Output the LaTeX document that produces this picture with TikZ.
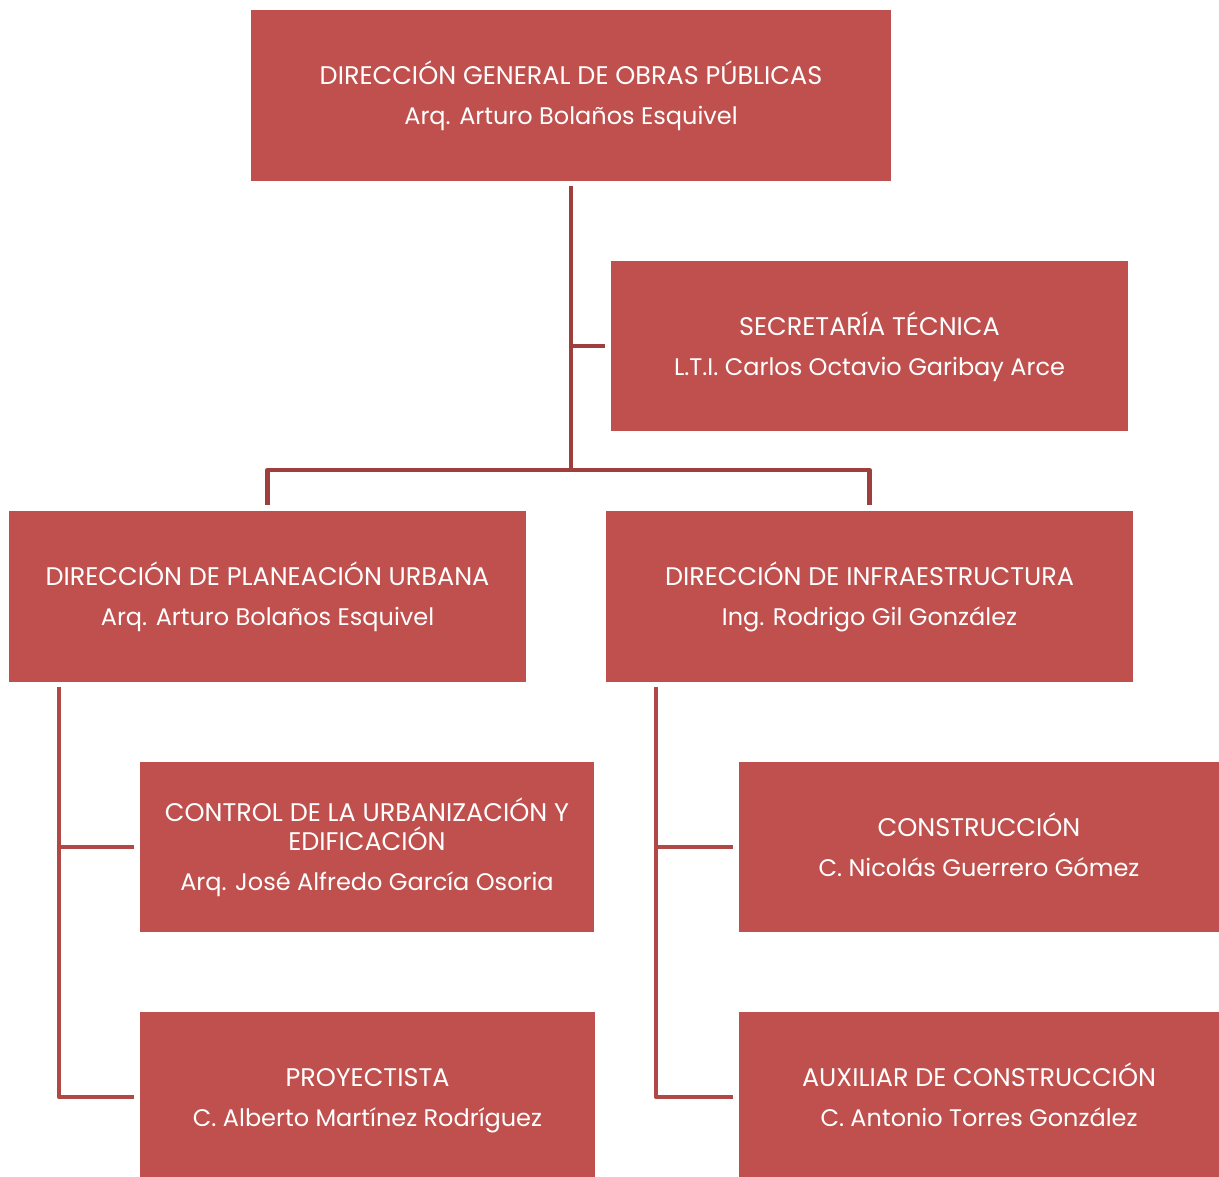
\documentclass[tikz,border=0pt]{standalone}
\usepackage{fontspec}
\setmainfont{Poppins}
\definecolor{boxred}{HTML}{C0504D}
\definecolor{lineA}{HTML}{9E3F3D}
\definecolor{lineB}{HTML}{B04846}
\newcommand\ttlfont{\fontsize{25.5}{29}\selectfont}
\newcommand\nmefont{\fontsize{24}{29}\selectfont}
\newcommand\topstrut{\rule{0pt}{27pt}}
\newcommand\botstrut{\rule[-9pt]{0pt}{9pt}}
\begin{document}
\begin{tikzpicture}[x=1pt,y=-1pt,
  box/.style={fill=boxred,draw=none,text=white,align=center,inner sep=0pt,
    font=\ttlfont},
  conn/.style={line width=4.5pt,line cap=butt,line join=round}]
\useasboundingbox (0,0) rectangle (1219,1177);
\node[box,minimum width=640,minimum height=171] (top) at (571,95.5)
  {\topstrut DIRECCIÓN GENERAL DE OBRAS PÚBLICAS\\[11pt]\nmefont Arq. Arturo Bolaños Esquivel\botstrut};
\node[box,minimum width=517,minimum height=170] (sec) at (869.5,346)
  {\topstrut SECRETARÍA TÉCNICA\\[11pt]\nmefont L.T.I. Carlos Octavio Garibay Arce\botstrut};
\node[box,minimum width=517,minimum height=171] (plan) at (267.5,596.5)
  {\topstrut DIRECCIÓN DE PLANEACIÓN URBANA\\[11pt]\nmefont Arq. Arturo Bolaños Esquivel\botstrut};
\node[box,minimum width=527,minimum height=171] (infra) at (869.5,596.5)
  {\topstrut DIRECCIÓN DE INFRAESTRUCTURA\\[11pt]\nmefont Ing. Rodrigo Gil González\botstrut};
\node[box,minimum width=454,minimum height=170] (ctrl) at (367,847)
  {\topstrut CONTROL DE LA URBANIZACIÓN Y\\EDIFICACIÓN\\[11pt]\nmefont Arq. José Alfredo García Osoria\botstrut};
\node[box,minimum width=455,minimum height=170] (proy) at (367.5,1097)
  {\topstrut PROYECTISTA\\[11pt]\nmefont C. Alberto Martínez Rodríguez\botstrut};
\node[box,minimum width=480,minimum height=170] (cons) at (979,847)
  {\topstrut CONSTRUCCIÓN\\[11pt]\nmefont C. Nicolás Guerrero Gómez\botstrut};
\node[box,minimum width=480,minimum height=170] (aux) at (979,1097)
  {\topstrut AUXILIAR DE CONSTRUCCIÓN\\[11pt]\nmefont C. Antonio Torres González\botstrut};
% connectors
\coordinate (j) at (571,470);
\draw[conn,lineA] ([yshift=-5pt]top.south) -- (j);
\draw[conn,lineA] (top.south |- sec.west) -- ([xshift=-6pt]sec.west);
\draw[conn,lineA] ([yshift=6pt]plan.north) |- (j) -| ([yshift=6pt]infra.north);
\coordinate (lv) at (59,687);
\coordinate (rv) at (656,687);
\draw[conn,lineB] (lv) |- ([xshift=-6pt]proy.west);
\draw[conn,lineB] (lv |- ctrl.west) -- ([xshift=-6pt]ctrl.west);
\draw[conn,lineB] (rv) |- ([xshift=-6pt]aux.west);
\draw[conn,lineB] (rv |- cons.west) -- ([xshift=-6pt]cons.west);
\end{tikzpicture}
\end{document}
